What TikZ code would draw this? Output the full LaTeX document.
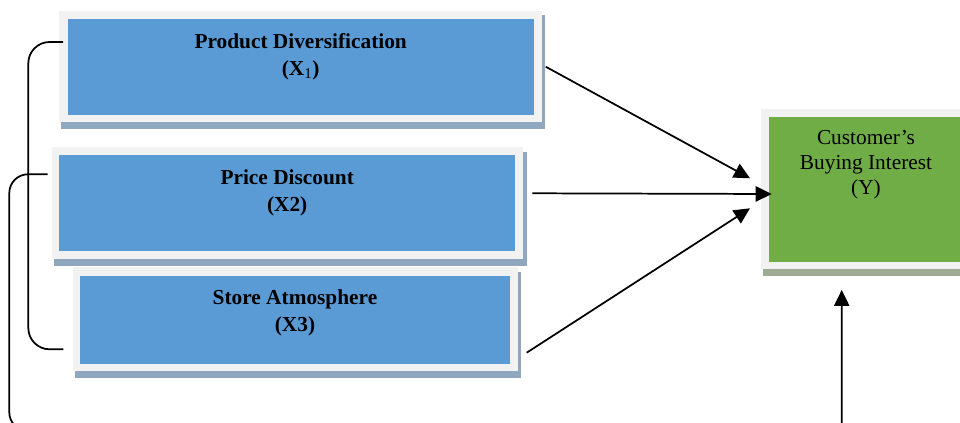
\documentclass[tikz,border=0pt]{standalone}
\usepackage{fontspec}
\setmainfont{Liberation Serif}
\usetikzlibrary{arrows.meta}
\definecolor{boxblue}{HTML}{5B9BD5}
\definecolor{framegrey}{HTML}{F2F2F2}
\definecolor{shadowblue}{HTML}{8FA7BF}
\definecolor{boxgreen}{HTML}{70AD47}
\definecolor{shadowgreen}{HTML}{9EAB93}
\begin{document}
\begin{tikzpicture}[x=0.75pt,y=-0.75pt,
  conn/.style={line width=1.3pt, black},
  tip/.style={-{Triangle[length=12pt,width=11.5pt]}},
  boldlbl/.style={anchor=base, inner sep=0pt, font=\fontsize{16}{19}\selectfont\bfseries},
  plainlbl/.style={anchor=base, inner sep=0pt, font=\fontsize{16}{19}\selectfont},
  shadowb/.style={fill=shadowblue},
  frameg/.style={fill=framegrey},
  bluefill/.style={fill=boxblue},
]
\clip (0,0) rectangle (960,423);
\fill[white] (0,0) rectangle (960,423);

% Box 1
\fill[shadowb] (61,15) rectangle (545,129);
\fill[frameg] (59.3,11) rectangle (542,122);
\fill[bluefill] (67.7,19) rectangle (533.7,115);
\node[boldlbl] (x1a) at (300.7,48.5) {Product Diversification};
\node[boldlbl] (x1b) at (300.7,75.5) {(X\textsubscript{\mdseries 1})};

% Box 2
\fill[shadowb] (54,152) rectangle (526.7,266);
\fill[frameg] (51.7,146.7) rectangle (523.3,259);
\fill[bluefill] (59.3,155) rectangle (515,251);
\node[boldlbl] (x2a) at (287.2,184.5) {Price Discount};
\node[boldlbl] (x2b) at (287.2,211.5) {(X2)};

% Box 3
\fill[shadowb] (75,272) rectangle (521,378);
\fill[frameg] (72.7,267.3) rectangle (518.3,371);
\fill[bluefill] (80,275.7) rectangle (510,364);
\node[boldlbl] (x3a) at (295,305) {Store Atmosphere};
\node[boldlbl] (x3b) at (295,332) {(X3)};

% Box Y
\fill[shadowgreen] (763,113) rectangle (965,276);
\fill[frameg] (761,109) rectangle (965,269.3);
\fill[boxgreen] (769.3,116.7) rectangle (965,261.7);
\node[plainlbl] (ya) at (866,145) {Customer’s};
\node[plainlbl] (yb) at (866,170) {Buying Interest};
\node[plainlbl] (yc) at (866,195) {(Y)};

% connector ends
\coordinate (s1) at (545.7,66.7);
\coordinate (t1) at (750,178.3);
\coordinate (s2) at (532.3,193.3);
\coordinate (t2) at (771.7,194);
\coordinate (s3) at (526.7,352.7);
\coordinate (t3) at (750,208.3);
\coordinate (bi1) at (63,42);
\coordinate (bi2) at (63.3,349.3);
\coordinate (bo1) at (47.7,174.3);
\coordinate (ty) at (841.7,290);

% arrows
\draw[conn,tip] (s1) -- (t1);
\draw[conn,tip] (s2) -- (t2);
\draw[conn,tip] (s3) -- (t3);

% inner bracket
\draw[conn, rounded corners=16pt] (bi1) -- (28.3,42) -- (28.3,349.3) -- (bi2);
% outer bracket to Y
\draw[conn, tip] [rounded corners=14pt] (bo1) -- (9.3,174.3) -- (9.3,431) [rounded corners=4pt] -- (841.7,431) -- (ty);
\end{tikzpicture}
\end{document}
